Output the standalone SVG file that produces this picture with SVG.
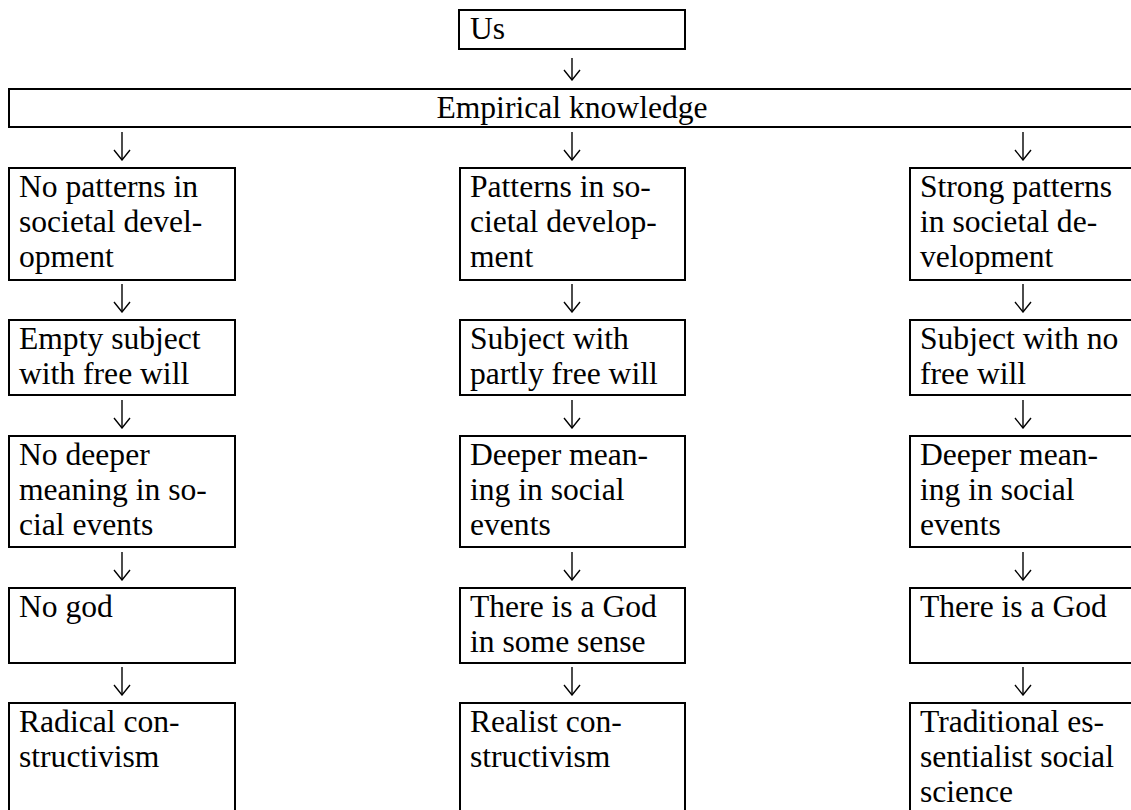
<svg xmlns="http://www.w3.org/2000/svg" width="1131" height="810" viewBox="0 0 1131 810">
<style>
.box{fill:#fff;stroke:#000;stroke-width:2}
.t{font-family:"Liberation Serif","Times New Roman",serif;font-size:31.6px;fill:#000}
.c{text-anchor:middle}
.arr{stroke:#000;stroke-width:1.4;fill:none}
</style>
<defs>
<marker id="ah" viewBox="0 0 18 12" refX="9" refY="11" markerWidth="18" markerHeight="12" markerUnits="userSpaceOnUse" orient="0">
<path d="M1 1 L9 11 L17 1" fill="none" stroke="#000" stroke-width="1.4"/>
</marker>
</defs>
<rect width="1131" height="810" fill="#fff"/>
<g id="connectors" class="arr" marker-end="url(#ah)">
<path d="M572 58 V80" marker-end="url(#ah)"/>
<path d="M122 132 V160" marker-end="url(#ah)"/>
<path d="M572 132 V160" marker-end="url(#ah)"/>
<path d="M1023 132 V160" marker-end="url(#ah)"/>
<path d="M122 284 V312" marker-end="url(#ah)"/>
<path d="M572 284 V312" marker-end="url(#ah)"/>
<path d="M1023 284 V312" marker-end="url(#ah)"/>
<path d="M122 400 V428" marker-end="url(#ah)"/>
<path d="M572 400 V428" marker-end="url(#ah)"/>
<path d="M1023 400 V428" marker-end="url(#ah)"/>
<path d="M122 552 V580" marker-end="url(#ah)"/>
<path d="M572 552 V580" marker-end="url(#ah)"/>
<path d="M1023 552 V580" marker-end="url(#ah)"/>
<path d="M122 667 V695" marker-end="url(#ah)"/>
<path d="M572 667 V695" marker-end="url(#ah)"/>
<path d="M1023 667 V695" marker-end="url(#ah)"/>
</g>
<g id="us"><rect class="box" x="459" y="10" width="226" height="39"/><text class="t" x="470" y="39">Us</text></g>
<g id="empirical"><rect class="box" x="9" y="89" width="1130" height="38"/><text class="t c" x="572" y="118">Empirical knowledge</text></g>

<g id="l1"><rect class="box" x="9" y="168" width="226" height="112"/><text class="t" x="19" y="197">No patterns in<tspan x="19" dy="35">societal devel-</tspan><tspan x="19" dy="35">opment</tspan></text></g>
<g id="m1"><rect class="box" x="460" y="168" width="225" height="112"/><text class="t" x="470" y="197">Patterns in so-<tspan x="470" dy="35">cietal develop-</tspan><tspan x="470" dy="35">ment</tspan></text></g>
<g id="r1"><rect class="box" x="910" y="168" width="230" height="112"/><text class="t" x="920" y="197">Strong patterns<tspan x="920" dy="35">in societal de-</tspan><tspan x="920" dy="35">velopment</tspan></text></g>

<g id="l2"><rect class="box" x="9" y="320" width="226" height="75"/><text class="t" x="19" y="349">Empty subject<tspan x="19" dy="35">with free will</tspan></text></g>
<g id="m2"><rect class="box" x="460" y="320" width="225" height="75"/><text class="t" x="470" y="349">Subject with<tspan x="470" dy="35">partly free will</tspan></text></g>
<g id="r2"><rect class="box" x="910" y="320" width="230" height="75"/><text class="t" x="920" y="349">Subject with no<tspan x="920" dy="35">free will</tspan></text></g>

<g id="l3"><rect class="box" x="9" y="436" width="226" height="111"/><text class="t" x="19" y="465">No deeper<tspan x="19" dy="35">meaning in so-</tspan><tspan x="19" dy="35">cial events</tspan></text></g>
<g id="m3"><rect class="box" x="460" y="436" width="225" height="111"/><text class="t" x="470" y="465">Deeper mean-<tspan x="470" dy="35">ing in social</tspan><tspan x="470" dy="35">events</tspan></text></g>
<g id="r3"><rect class="box" x="910" y="436" width="230" height="111"/><text class="t" x="920" y="465">Deeper mean-<tspan x="920" dy="35">ing in social</tspan><tspan x="920" dy="35">events</tspan></text></g>

<g id="l4"><rect class="box" x="9" y="588" width="226" height="75"/><text class="t" x="19" y="617">No god</text></g>
<g id="m4"><rect class="box" x="460" y="588" width="225" height="75"/><text class="t" x="470" y="617">There is a God<tspan x="470" dy="35">in some sense</tspan></text></g>
<g id="r4"><rect class="box" x="910" y="588" width="230" height="75"/><text class="t" x="920" y="617">There is a God</text></g>

<g id="l5"><rect class="box" x="9" y="703" width="226" height="120"/><text class="t" x="19" y="732">Radical con-<tspan x="19" dy="35">structivism</tspan></text></g>
<g id="m5"><rect class="box" x="460" y="703" width="225" height="120"/><text class="t" x="470" y="732">Realist con-<tspan x="470" dy="35">structivism</tspan></text></g>
<g id="r5"><rect class="box" x="910" y="703" width="230" height="120"/><text class="t" x="920" y="732">Traditional es-<tspan x="920" dy="35">sentialist social</tspan><tspan x="920" dy="35">science</tspan></text></g>
</svg>
